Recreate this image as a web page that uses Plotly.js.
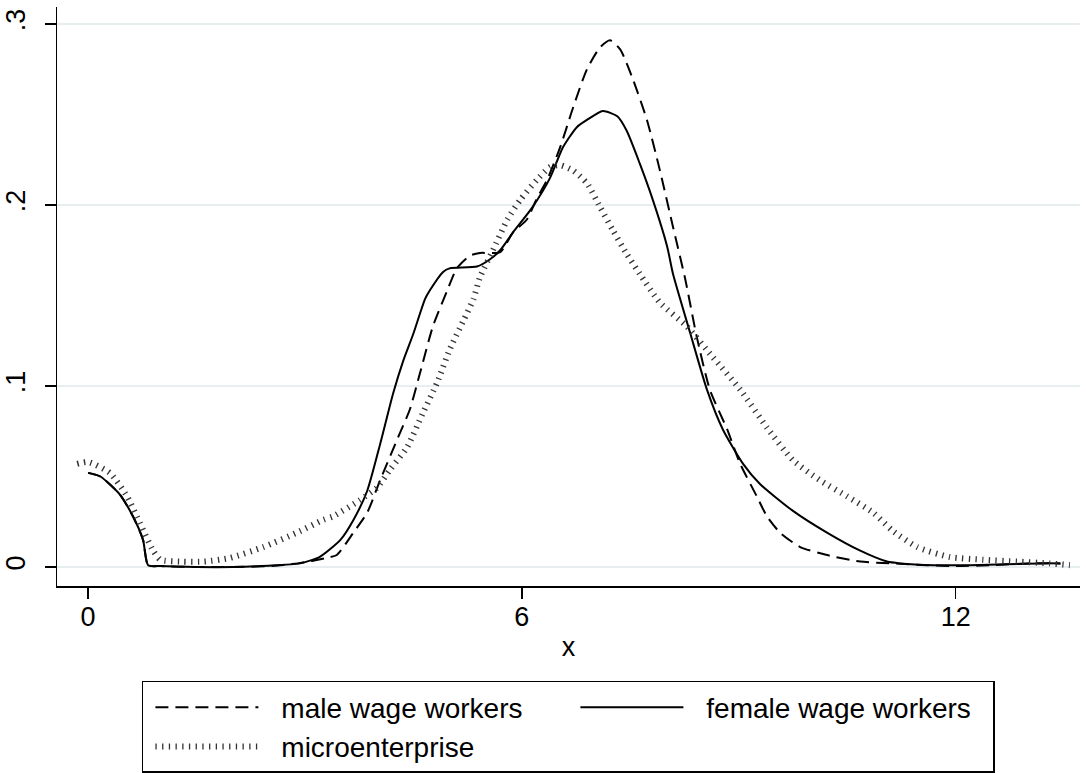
<!DOCTYPE html>
<html>
<head>
<meta charset="utf-8">
<script src="https://cdn.plot.ly/plotly-3.0.1.min.js"></script>
<style>html,body{margin:0;padding:0;background:#fff;}#chart{width:1086px;height:773px;}</style>
</head>
<body>
<div id="chart"></div>
<script>
// Series names
const seriesNames = ["male wage workers", "female wage workers", "microenterprise"];

// male wage workers
const maleX = [0, 0.17, 0.44, 0.62, 0.76, 0.83, 1.0, 1.5, 2.0, 2.5, 2.9, 3.3, 3.44, 3.67, 3.86, 4.04, 4.27, 4.45, 4.59, 4.77, 4.97, 5.1, 5.28, 5.42, 5.7, 5.88, 6.07, 6.2, 6.35, 6.53, 6.71, 6.9, 7.08, 7.22, 7.36, 7.54, 7.73, 7.91, 8.09, 8.26, 8.42, 8.6, 8.84, 9.02, 9.25, 9.39, 9.57, 9.85, 10.22, 10.68, 11.13, 11.6, 12.0, 12.5, 13.0, 13.45];
const maleY = [0.052, 0.050, 0.040, 0.028, 0.015, 0.001, 0.0005, 0, 0, 0.0005, 0.002, 0.005, 0.0066, 0.019, 0.030, 0.048, 0.070, 0.087, 0.107, 0.133, 0.153, 0.165, 0.172, 0.1735, 0.174, 0.185, 0.192, 0.203, 0.214, 0.232, 0.254, 0.275, 0.287, 0.291, 0.286, 0.269, 0.247, 0.219, 0.188, 0.159, 0.127, 0.098, 0.076, 0.057, 0.039, 0.028, 0.019, 0.011, 0.0066, 0.003, 0.002, 0.001, 0.0005, 0.001, 0.002, 0.002];

// female wage workers
const femaleX = [0, 0.17, 0.44, 0.62, 0.76, 0.83, 1.0, 1.5, 2.0, 2.5, 2.93, 3.2, 3.49, 3.67, 3.86, 4.04, 4.22, 4.36, 4.5, 4.66, 4.73, 4.91, 5.0, 5.38, 5.56, 5.7, 5.88, 6.15, 6.39, 6.57, 6.76, 6.9, 7.12, 7.32, 7.45, 7.63, 7.81, 8.01, 8.09, 8.33, 8.56, 8.78, 9.06, 9.29, 9.75, 10.22, 10.68, 11.05, 11.23, 11.7, 12.2, 12.7, 13.2, 13.45];
const femaleY = [0.052, 0.050, 0.040, 0.028, 0.015, 0.001, 0.0005, 0, 0, 0.0007, 0.002, 0.0055, 0.015, 0.026, 0.042, 0.068, 0.096, 0.114, 0.129, 0.148, 0.153, 0.163, 0.165, 0.166, 0.170, 0.175, 0.185, 0.199, 0.215, 0.232, 0.243, 0.247, 0.252, 0.249, 0.241, 0.223, 0.203, 0.177, 0.162, 0.129, 0.098, 0.076, 0.057, 0.046, 0.031, 0.019, 0.009, 0.003, 0.002, 0.001, 0.001, 0.0015, 0.002, 0.002];

// microenterprise
const microX = [-0.15, 0, 0.3, 0.54, 0.72, 0.9, 1.0, 1.3, 1.6, 1.96, 2.42, 2.89, 3.25, 3.39, 3.76, 4.0, 4.18, 4.41, 4.63, 4.83, 5.0, 5.19, 5.33, 5.42, 5.6, 5.8, 5.98, 6.21, 6.39, 6.53, 6.71, 6.9, 7.08, 7.26, 7.45, 7.63, 7.91, 8.28, 8.64, 9.02, 9.39, 9.75, 10.12, 10.5, 10.86, 11.13, 11.47, 11.92, 12.38, 12.85, 13.3, 13.58];
const microY = [0.057, 0.058, 0.052, 0.039, 0.024, 0.009, 0.004, 0.003, 0.003, 0.005, 0.011, 0.019, 0.026, 0.028, 0.037, 0.044, 0.054, 0.066, 0.085, 0.102, 0.12, 0.136, 0.148, 0.160, 0.175, 0.192, 0.203, 0.214, 0.221, 0.222, 0.219, 0.212, 0.199, 0.186, 0.173, 0.162, 0.146, 0.133, 0.116, 0.098, 0.077, 0.059, 0.048, 0.039, 0.030, 0.020, 0.011, 0.0055, 0.004, 0.003, 0.002, 0.001];

// Axis ticks
const xTickVals = [0, 6, 12];
const xTickText = ["0", "6", "12"];
const yTickVals = [0, 0.1, 0.2, 0.3];
const yTickText = ["0", ".1", ".2", ".3"];

const FONT = "Liberation Sans, Arial, Helvetica, sans-serif";
const GAP = "\u00a0\u00a0\u200a";

const traces = [
  {x: maleX, y: maleY, name: GAP + seriesNames[0], type: "scatter", mode: "lines",
   line: {color: "#000", width: 2, dash: "13px,7px", shape: "spline", smoothing: 0.6}},
  {x: femaleX, y: femaleY, name: GAP + seriesNames[1], type: "scatter", mode: "lines",
   line: {color: "#000", width: 2, shape: "spline", smoothing: 0.6}},
  {x: microX, y: microY, name: GAP + seriesNames[2], type: "scatter", mode: "lines",
   line: {color: "#333", width: 6, dash: "1.3px,5.4px", shape: "spline", smoothing: 0.6}}
];

const layout = {
  width: 1086, height: 773,
  paper_bgcolor: "#fff", plot_bgcolor: "#fff",
  margin: {l: 57, r: 6, t: 7, b: 187, autoexpand: false},
  font: {family: FONT, color: "#000", size: 27},
  showlegend: true,
  xaxis: {
    range: [-0.43, 13.72], tickvals: xTickVals, ticktext: xTickText,
    showgrid: false, zeroline: false, showline: true, linecolor: "#000", linewidth: 1.5,
    ticks: "outside", ticklen: 11, tickwidth: 1.5, tickcolor: "#000",
    ticklabelstandoff: -5,
    tickfont: {size: 27, family: FONT, color: "#000"},
    title: {text: "x", font: {size: 27, family: FONT, color: "#000"}, standoff: 6},
    automargin: false
  },
  yaxis: {
    range: [-0.0105, 0.3094], tickvals: yTickVals, ticktext: yTickText, tickangle: -90,
    showgrid: true, gridcolor: "#e6eef0", gridwidth: 1.5,
    zeroline: false, showline: true, linecolor: "#000", linewidth: 1.5,
    ticks: "outside", ticklen: 11, tickwidth: 1.5, tickcolor: "#000",
    ticklabelstandoff: 9,
    tickfont: {size: 27, family: FONT, color: "#000"},
    automargin: false
  },
  legend: {
    orientation: "h", x: 0.083, y: -0.164, xanchor: "left", yanchor: "top",
    itemwidth: 103, entrywidth: 300, entrywidthmode: "pixels", indentation: 7,
    bordercolor: "#000", borderwidth: 1.5, bgcolor: "#fff",
    font: {size: 28, family: FONT, color: "#000"},
    traceorder: "normal"
  }
};

Plotly.newPlot("chart", traces, layout, {displayModeBar: false, staticPlot: true});
</script>
</body>
</html>
